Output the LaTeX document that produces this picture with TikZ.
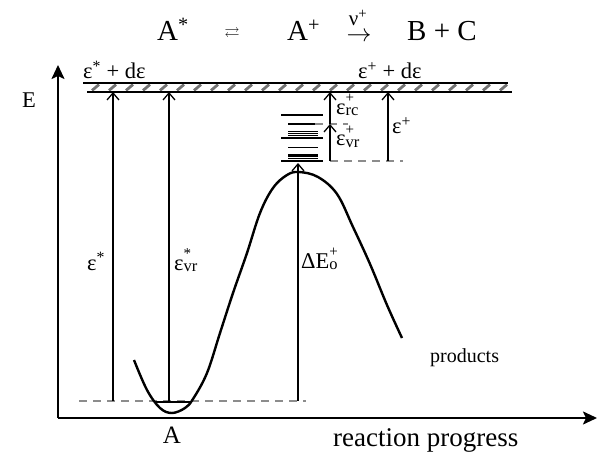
\documentclass[tikz,border=0pt]{standalone}
\usepackage{amsmath,amssymb}
\usepackage{fontspec}
\setmainfont{Liberation Serif}
\usetikzlibrary{arrows.meta}
\newcommand\esupsub[3]{#1\rlap{\raisebox{0.52em}{\fontsize{15}{15}\selectfont #2}}\raisebox{-0.06em}{\fontsize{16.5}{16.5}\selectfont #3}}
\begin{document}
\begin{tikzpicture}[x=1pt,y=-1pt,
  ttl/.style={font=\fontsize{29}{32}\selectfont, inner sep=0pt},
  lab/.style={font=\fontsize{22.5}{26}\selectfont, inner sep=0pt},
  axis/.style={line width=2pt, -{Stealth[length=14pt,width=13pt,inset=3pt]}},
  arr/.style={line width=1.3pt, -{Straight Barb[length=7pt,width=12pt]}},
  lvl/.style={line width=2pt},
  thick lvl/.style={line width=2.4pt},
  thin lvl/.style={line width=1.1pt},
  gdash/.style={line width=1.6pt, draw=black!45, dash pattern=on 8pt off 6pt},
  hatch/.style={line width=2.8pt, draw=black!55},
  curve/.style={line width=2.4pt, line join=round}]
\useasboundingbox (0,0) rectangle (598,452);

% axes
\coordinate (O) at (58,418);
\coordinate (Ytop) at (58,65);
\coordinate (Xend) at (597,418);
\draw[axis] (O) -- (Ytop);
\draw[axis] (O) -- (Xend);

% title reaction
\node[ttl, anchor=base west] (As) at (157,41) {A\textsuperscript{*}};
\node[inner sep=0pt, font=\fontsize{15}{17}\selectfont] (eq) at (232,34) {$\rightleftarrows$};
\node[ttl, anchor=base west] (Ap) at (287,41) {A\textsuperscript{+}};
\node[inner sep=0pt, anchor=base, font=\fontsize{21}{24}\selectfont] (nu) at (358,26) {ν\textsuperscript{+}};
\node[inner sep=0pt, font=\fontsize{23}{26}\selectfont] (ra) at (359,37) {$\rightarrow$};
\node[ttl, anchor=base west] (BC) at (407,41) {B + C};

% upper continuum band
\foreach \x in {92,109,...,500} \draw[hatch] (\x,90.5) -- (\x+7,84.5);
\draw[lvl] (83,83) -- (508,83);
\draw[lvl] (87,92) -- (512,92);
\node[lab, anchor=base west] (l1) at (83,79) {ε\textsuperscript{*} + dε};
\node[lab, anchor=base west] (l2) at (358,79) {ε\textsuperscript{+} + dε};

% energy levels of activated complex
\draw[thick lvl] (281,115) -- (323,115);
\draw[thick lvl] (281,138) -- (323,138);
\draw[thick lvl] (281,161) -- (323,161);
\foreach \y in {124,131.7,133.4,135.1} \draw[thin lvl] (288,\y) -- (318,\y);
\foreach \y in {147.7,155,156.7,158.4} \draw[thin lvl] (288,\y) -- (318,\y);

% dashed reference lines
\draw[gdash] (79,401) -- (306,401);
\draw[gdash] (315,124) -- (348,124);
\draw[gdash] (330,161) -- (403,161);

% potential curve
\draw[curve] plot[smooth, tension=0.6] coordinates {(134,360) (147,390) (160,408) (172,413) (185,408) (193,399) (207,373) (220,333) (233,293) (247,253) (260,213) (273,188) (287,175) (299,172) (318,177) (337,194) (353,227) (370,264) (387,305) (402,338)};
\draw[lvl] (155,402) -- (192,402);

% vertical arrows
\coordinate (a1b) at (113,401); \coordinate (a1t) at (113,92);
\coordinate (a2b) at (169,402); \coordinate (a2t) at (169,92);
\coordinate (a3b) at (298,401); \coordinate (a3t) at (298,163);
\coordinate (a4b) at (330,161); \coordinate (a4t) at (330,124);
\coordinate (a5b) at (330,124); \coordinate (a5t) at (330,92);
\coordinate (a6b) at (388,161); \coordinate (a6t) at (388,92);
\draw[arr] (a1b) -- (a1t);
\draw[arr] (a2b) -- (a2t);
\draw[arr] (a3b) -- (a3t);
\draw[arr] (a4b) -- (a4t);
\draw[arr] (a5b) -- (a5t);
\draw[arr] (a6b) -- (a6t);

% labels
\node[lab, anchor=base west] (E) at (22,108) {E};
\node[lab, anchor=base west] (ls) at (87,270) {ε\textsuperscript{*}};
\node[lab, anchor=base west] (lsvr) at (174,270) {\esupsub{ε}{*}{vr}};
\node[lab, anchor=base west] (lde) at (301,268) {\esupsub{ΔE}{+}{o}};
\node[lab, anchor=base west] (lrc) at (336,114) {\esupsub{ε}{+}{rc}};
\node[lab, anchor=base west] (lvr) at (336,146) {\esupsub{ε}{+}{vr}};
\node[lab, anchor=base west] (lp) at (392,134) {ε\textsuperscript{+}};
\node[inner sep=0pt, anchor=base, font=\fontsize{25}{28}\selectfont] (A) at (172,443) {A};
\node[inner sep=0pt, anchor=base west, font=\fontsize{20}{24}\selectfont] (prod) at (430,362) {products};
\node[inner sep=0pt, anchor=base west, font=\fontsize{27}{30}\selectfont] (rp) at (333,446) {reaction progress};
\end{tikzpicture}
\end{document}
